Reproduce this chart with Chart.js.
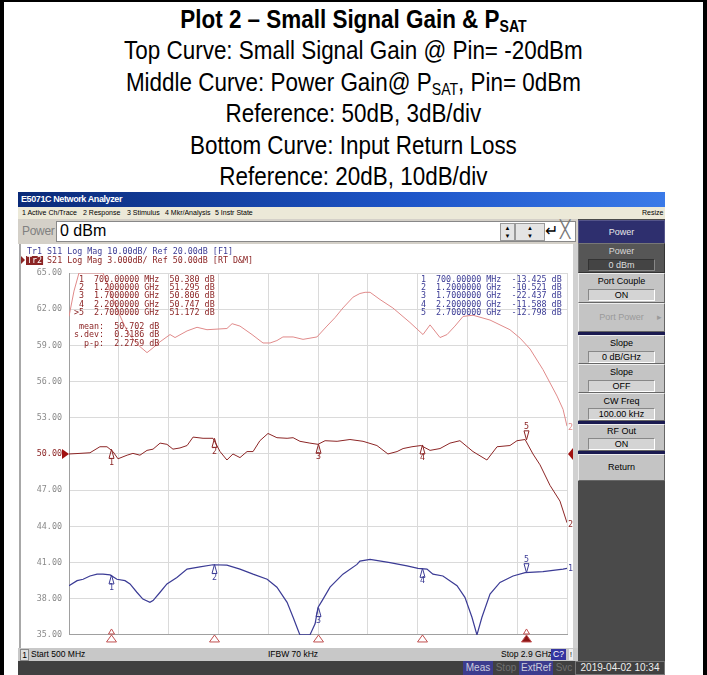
<!DOCTYPE html>
<html>
<head>
<meta charset="utf-8">
<script src="https://cdn.jsdelivr.net/npm/chart.js@4.4.1/dist/chart.umd.min.js"></script>
<style>
  body { margin: 0; width: 707px; height: 675px; position: relative; overflow: hidden; background: #fff; font-family: 'Liberation Sans', Arial, sans-serif; }
  .frame { position: absolute; left: 0; top: 0; width: 699px; height: 690px; border-left: 4px solid #000; border-right: 4px solid #000; border-top: 2px solid #000; }
  .title { position: absolute; left: 0; width: 707px; height: 30px; text-align: center; font-size: 25.5px; line-height: 30px; color: #000; transform: scaleX(0.88); transform-origin: 353px 0; }
  .title sub { font-size: 16px; vertical-align: -4px; line-height: 0; }
  .abs { position: absolute; }
  .titlebar { left: 18px; top: 192px; width: 647px; height: 15px; background: linear-gradient(to right, #0a2a78, #1d55c8 60%, #3a7ae8); color: #fff; font: bold 9px 'Liberation Sans'; letter-spacing: -0.4px; line-height: 15px; }
  .menubar { left: 18px; top: 207px; width: 647px; height: 12px; background: #ece9d8; font: 7px 'Liberation Sans'; line-height: 12px; color: #000; }
  .entry { left: 18px; top: 219px; width: 560px; height: 25px; background: #d4d0c8; }
  .sk { position: absolute; left: 578px; width: 85px; background: #c4c4c4; border: 1px solid; border-color: #eee #666 #666 #eee; text-align: center; font: 9px 'Liberation Sans'; color: #000; }
  .fld { position: absolute; left: 9px; width: 65px; height: 10px; background: #d4d4d4; border: 1px solid; border-color: #888 #fff #fff #888; line-height: 10px; }
  .sep { position: absolute; left: 578px; width: 87px; height: 3px; background: #1a1a50; }
  .status { left: 18px; top: 648px; width: 560px; height: 13px; background: #c8c8c8; font: 8.5px 'Liberation Sans'; line-height: 13px; color: #000; }
  .bottom { left: 18px; top: 661px; width: 647px; height: 14px; background: #404040; font: 10px 'Liberation Sans'; line-height: 14px; }
</style>
</head>
<body>
<div class="frame"></div>
<div class="title" style="top:4px;font-weight:bold">Plot 2 – Small Signal Gain &amp; P<sub>SAT</sub></div>
<div class="title" style="top:35px">Top Curve: Small Signal Gain @ Pin= -20dBm</div>
<div class="title" style="top:67px">Middle Curve: Power Gain@ P<sub>SAT</sub>, Pin= 0dBm</div>
<div class="title" style="top:98px">Reference: 50dB, 3dB/div</div>
<div class="title" style="top:130px">Bottom Curve: Input Return Loss</div>
<div class="title" style="top:161px">Reference: 20dB, 10dB/div</div>

<div class="abs titlebar"><span style="margin-left:3px">E5071C Network Analyzer</span></div>
<div class="abs menubar">
  <span class="abs" style="left:4px">1 Active Ch/Trace</span>
  <span class="abs" style="left:65px">2 Response</span>
  <span class="abs" style="left:109px">3 Stimulus</span>
  <span class="abs" style="left:147px">4 Mkr/Analysis</span>
  <span class="abs" style="left:197px">5 Instr State</span>
  <span class="abs" style="left:624px">Resize</span>
</div>
<div class="abs entry">
  <div class="abs" style="left:4px;top:5px;font-size:12px;letter-spacing:-0.3px;color:#808080">Power</div>
  <div class="abs" style="left:38px;top:2px;width:518px;height:19px;background:#fff;border:1px solid #888"></div>
  <div class="abs" style="left:42px;top:3px;font-size:16px;color:#000">0 dBm</div>
  <div class="abs" style="left:482px;top:4px;width:13px;height:16px;background:#e4e4e4;border:1px solid #999;font-size:6px;text-align:center;line-height:8px">▲<br>▼</div>
  <div class="abs" style="left:497px;top:4px;width:28px;height:16px;background:#e4e4e4;border:1px solid #999;font-size:6px;text-align:center;line-height:8px">▲<br>▼</div>
  <div class="abs" style="left:527px;top:2px;font-size:16px;color:#000">↵</div>
  <div class="abs" style="left:542px;top:3px;width:13px;height:16px;font-size:17px;line-height:16px;color:#777">╳</div>
</div>

<div class="abs" style="left:18px;top:244px;width:560px;height:404px;background:#fff"></div>
<div class="abs" style="left:19px;top:244px;width:2px;height:404px;background:#a8a8a8"></div>
<div class="abs" style="left:573px;top:244px;width:5px;height:404px;background:#d0d0d0"></div>
<canvas id="c" class="abs" style="left:18px;top:245px" width="555" height="402"></canvas>

<div class="abs" style="left:578px;top:219px;width:87px;height:442px;background:#4a4a4a"></div>
<div class="sk" style="top:220px;height:22px;line-height:22px;background:#2e2f6e;color:#e8e8e8;border-color:#55558a">Power</div>
<div class="sk" style="top:243px;height:28px;background:#565656;color:#d8d8d8;border-color:#777 #333 #333 #777"><div style="margin-top:2px">Power</div><div class="fld" style="top:15px;background:#444;color:#ddd;border-color:#333 #888 #888 #333">0 dBm</div></div>
<div class="sk" style="top:273px;height:28px"><div style="margin-top:2px">Port Couple</div><div class="fld" style="top:15px">ON</div></div>
<div class="sk" style="top:303px;height:27px;line-height:27px;color:#9a9a9a">Port Power<span class="abs" style="right:2px;top:0">▸</span></div>
<div class="sep" style="top:332px"></div>
<div class="sk" style="top:335px;height:27px"><div style="margin-top:2px">Slope</div><div class="fld" style="top:15px">0 dB/GHz</div></div>
<div class="sk" style="top:364px;height:27px"><div style="margin-top:2px">Slope</div><div class="fld" style="top:15px">OFF</div></div>
<div class="sk" style="top:393px;height:26px"><div style="margin-top:2px">CW Freq</div><div class="fld" style="top:14px">100.00 kHz</div></div>
<div class="sep" style="top:421px"></div>
<div class="sk" style="top:424px;height:25px"><div style="margin-top:1px">RF Out</div><div class="fld" style="top:13px">ON</div></div>
<div class="sep" style="top:451px"></div>
<div class="sk" style="top:454px;height:25px;line-height:25px">Return</div>

<div class="abs status">
  <span class="abs" style="left:2px;top:1px;width:7px;height:10px;line-height:10px;border:1px solid #888;background:#ddd;text-align:center">1</span>
  <span class="abs" style="left:13px">Start 500 MHz</span>
  <span class="abs" style="left:250px">IFBW 70 kHz</span>
  <span class="abs" style="left:483px">Stop 2.9 GHz</span>
  <span class="abs" style="left:533px;top:1px;width:15px;height:11px;line-height:11px;background:#3535a0;color:#fff;text-align:center">C?</span>
  <span class="abs" style="left:551px;top:1px;width:4px;height:11px;line-height:11px;background:#eee;text-align:center;font-size:7px">!</span>
</div>
<div class="abs bottom">
  <span class="abs" style="left:445px;width:30px;background:#3c3c8e;color:#ccd;text-align:center">Meas</span>
  <span class="abs" style="left:477px;width:22px;color:#707070;text-align:center">Stop</span>
  <span class="abs" style="left:501px;width:34px;background:#3c3c8e;color:#ccd;text-align:center">ExtRef</span>
  <span class="abs" style="left:537px;width:18px;color:#707070;text-align:center">Svc</span>
  <span class="abs" style="left:557px;width:88px;height:12px;border:1px solid #777;color:#eee;text-align:center;line-height:12px">2019-04-02 10:34</span>
</div>

<script>
// sweep 500 MHz .. 2.9 GHz, 240 MHz/div
const startMHz = 500;
const stopMHz = 2900;

// top curve: small signal gain @ Pin = -20 dBm (S21 memory, 3 dB/div)
const smallFreq = [500, 524, 548, 664, 698, 736, 780, 818, 842, 876, 905, 939, 987, 1011, 1069, 1117, 1165, 1261, 1286, 1324, 1382, 1435, 1469, 1502, 1531, 1580, 1628, 1695, 1743, 1782, 1820, 1869, 1902, 1927, 1951, 1999, 2061, 2143, 2206, 2240, 2288, 2322, 2360, 2399, 2447, 2529, 2625, 2674, 2722, 2784, 2852, 2881, 2900];
const smallGain = [61.4, 63.5, 65, 65, 63.5, 61.8, 60.2, 59.3, 58.9, 58.4, 58.8, 59.3, 59.9, 59.65, 60.2, 60.5, 60.3, 60.4, 60.8, 60.6, 59.9, 59.2, 59.2, 59.4, 59.7, 59.7, 59.5, 59.7, 60.6, 61.3, 62.1, 63.0, 63.3, 63.4, 63.4, 62.8, 62.1, 60.9, 59.9, 60.7, 59.65, 59.9, 60.6, 61.4, 61.5, 61.1, 60.3, 59.6, 58.7, 57.0, 54.8, 53.7, 52.3];

// middle curve: power gain @ PSAT, Pin = 0 dBm (S21, 3 dB/div)
const satFreq = [500, 553, 601, 649, 683, 712, 736, 780, 808, 842, 876, 905, 939, 972, 1001, 1035, 1069, 1098, 1146, 1194, 1228, 1261, 1290, 1324, 1358, 1387, 1420, 1459, 1502, 1551, 1580, 1613, 1661, 1700, 1734, 1792, 1854, 1917, 1984, 2037, 2081, 2110, 2153, 2196, 2240, 2288, 2336, 2384, 2447, 2514, 2563, 2625, 2659, 2698, 2736, 2770, 2818, 2866, 2900];
const satGain = [50.0, 50.05, 50.1, 50.6, 50.6, 50.2, 49.6, 49.9, 50.05, 49.9, 50.3, 50.4, 50.9, 50.8, 50.4, 50.5, 50.7, 51.4, 51.3, 51.3, 50.2, 49.5, 50.0, 49.7, 50.2, 50.2, 51.1, 51.7, 51.35, 51.3, 51.35, 51.05, 50.9, 50.8, 51.1, 51.05, 51.2, 51.05, 50.7, 50.0, 50.2, 50.45, 50.6, 50.7, 50.3, 50.45, 50.9, 51.1, 50.2, 49.5, 50.6, 50.7, 51.1, 51.2, 50.0, 49.1, 47.4, 46.1, 44.3];

// bottom curve: input return loss (S11, 10 dB/div, ref 20 dB)
const s11Freq = [500, 539, 568, 601, 635, 664, 698, 731, 770, 794, 827, 856, 890, 905, 939, 972, 1020, 1069, 1131, 1194, 1261, 1324, 1387, 1455, 1502, 1551, 1580, 1604, 1613, 1661, 1686, 1700, 1720, 1758, 1820, 1888, 1902, 1951, 2047, 2129, 2182, 2225, 2254, 2302, 2370, 2408, 2442, 2466, 2490, 2529, 2577, 2640, 2698, 2784, 2881, 2900];
const s11Db = [-16.4, -15.0, -14.6, -13.7, -13.2, -13.2, -13.4, -14.6, -15.0, -15.9, -18.2, -20.1, -21.0, -20.5, -18.2, -15.9, -14.1, -11.8, -11.2, -10.6, -10.7, -11.8, -13.2, -14.6, -16.8, -21.0, -25.1, -28.7, -30, -30, -26.9, -22.4, -20.5, -16.8, -13.2, -10.5, -9.6, -9.1, -10.0, -10.9, -11.6, -11.8, -13.2, -13.7, -16.4, -19.6, -25.1, -30, -25.1, -18.7, -15.5, -13.7, -12.8, -12.5, -11.8, -11.6];

// marker table
const markerFreq = [700, 1200, 1700, 2200, 2700];
const markerS21 = [50.380, 51.295, 50.806, 50.747, 51.172];
const markerS11 = [-13.425, -10.521, -22.437, -11.588, -12.798];
const statNames = ['mean:', 's.dev:', 'p-p:'];
const statValues = ['50.702', '0.3186', '2.2759'];

const RED = '#8c2525';
const PINK = '#e08a8a';
const BLUE = '#3b3b95';
const MONO = '8.35px "DejaVu Sans Mono"';

const pts = (xs, ys) => xs.map((x, i) => ({ x: x, y: ys[i] }));

function fmtFreq(f) {
  return f < 1000 ? f.toFixed(5) + ' MHz' : (f / 1000).toFixed(7) + ' GHz';
}

function tri(ctx, x, y, dir, w, h, fill) {
  ctx.beginPath();
  ctx.moveTo(x, y);
  ctx.lineTo(x - w, y + dir * h);
  ctx.lineTo(x + w, y + dir * h);
  ctx.closePath();
  if (fill) ctx.fill();
  ctx.stroke();
}

const overlay = {
  id: 'overlay',
  afterDatasetsDraw(chart) {
    const ctx = chart.ctx;
    const a = chart.chartArea;
    const xs = chart.scales.x, ys = chart.scales.y, y2 = chart.scales.y2;
    ctx.save();
    ctx.font = MONO;
    ctx.textBaseline = 'middle';
    ctx.lineWidth = 1;

    // trace header
    ctx.fillStyle = BLUE;
    ctx.textAlign = 'left';
    ctx.fillText('Tr1 S11 Log Mag 10.00dB/ Ref 20.00dB [F1]', 9, 7);
    const cw = ctx.measureText('0').width;
    ctx.fillStyle = RED;
    ctx.beginPath();
    ctx.moveTo(3, 11); ctx.lineTo(7, 15); ctx.lineTo(3, 19); ctx.closePath(); ctx.fill();
    ctx.fillRect(8, 11, cw * 3 + 2, 9);
    ctx.fillStyle = '#fff';
    ctx.fillText('Tr2', 9, 15.5);
    ctx.fillStyle = RED;
    ctx.fillText(' S21 Log Mag 3.000dB/ Ref 50.00dB [RT D&M]', 9 + cw * 3, 15.5);

    // marker readouts
    const x0 = a.left + 5, y0 = a.top + 6.5, dy = 8.4;
    markerFreq.forEach((f, i) => {
      ctx.fillStyle = RED;
      const lead = i === 4 ? '>' : ' ';
      ctx.fillText(lead + (i + 1) + '  ' + fmtFreq(f) + '  ' + markerS21[i].toFixed(3) + ' dB', x0, y0 + i * dy);
      ctx.fillStyle = BLUE;
      ctx.fillText((i + 1) + '  ' + fmtFreq(f) + '  ' + markerS11[i].toFixed(3) + ' dB', a.right - 146, y0 + i * dy);
    });
    ctx.fillStyle = RED;
    statNames.forEach((s, i) => {
      ctx.fillText(s.padStart(6) + '  ' + statValues[i] + ' dB', x0, y0 + (5.6 + i) * dy);
    });

    // trace markers
    const drawMarkers = (vals, scale, color) => {
      ctx.strokeStyle = color;
      ctx.fillStyle = color;
      ctx.textAlign = 'center';
      markerFreq.forEach((f, i) => {
        const px = Math.round(xs.getPixelForValue(f)) + 0.5;
        const py = scale.getPixelForValue(vals[i]);
        if (i === 4) {
          tri(ctx, px, py, -1, 2.5, 9, false);
          ctx.fillText(String(i + 1), px, py - 13);
        } else {
          tri(ctx, px, py, 1, 2.5, 9, false);
          ctx.fillText(String(i + 1), px, py + 13);
        }
      });
    };
    drawMarkers(markerS21, ys, RED);
    drawMarkers(markerS11, y2, BLUE);

    // trace end labels
    ctx.textAlign = 'left';
    ctx.fillStyle = PINK;
    ctx.fillText('2', a.right + 1, ys.getPixelForValue(smallGain[smallGain.length - 1]) + 2);
    ctx.fillStyle = RED;
    ctx.fillText('2', a.right + 1, ys.getPixelForValue(satGain[satGain.length - 1]) + 2);
    ctx.fillStyle = BLUE;
    ctx.fillText('1', a.right + 1, y2.getPixelForValue(s11Db[s11Db.length - 1]));

    // stimulus markers along the bottom
    ctx.strokeStyle = '#c05050';
    ctx.fillStyle = '#8c1515';
    markerFreq.forEach((f, i) => {
      const px = Math.round(xs.getPixelForValue(f)) + 0.5;
      tri(ctx, px, a.bottom, 1, 5, 7, i === 4);
      if (i === 0 || i === 4) tri(ctx, px, a.bottom - 6, 1, 3, 5, false);
    });

    // reference level arrows (50 dB)
    const ry = ys.getPixelForValue(50);
    ctx.fillStyle = '#a01010';
    ctx.beginPath();
    ctx.moveTo(a.left - 7, ry - 5); ctx.lineTo(a.left, ry); ctx.lineTo(a.left - 7, ry + 5); ctx.closePath(); ctx.fill();
    ctx.beginPath();
    ctx.moveTo(a.right + 6, ry - 6); ctx.lineTo(a.right + 1, ry); ctx.lineTo(a.right + 6, ry + 6); ctx.closePath(); ctx.fill();
    ctx.restore();
  }
};

new Chart(document.getElementById('c'), {
  type: 'line',
  data: {
    datasets: [
      { label: 'Small Signal Gain', data: pts(smallFreq, smallGain), borderColor: PINK, borderWidth: 1, pointRadius: 0, yAxisID: 'y' },
      { label: 'Power Gain @ PSAT', data: pts(satFreq, satGain), borderColor: RED, borderWidth: 1, pointRadius: 0, yAxisID: 'y' },
      { label: 'Input Return Loss', data: pts(s11Freq, s11Db), borderColor: BLUE, borderWidth: 1.2, pointRadius: 0, yAxisID: 'y2' }
    ]
  },
  options: {
    responsive: false,
    animation: false,
    layout: { padding: { top: 28, right: 6, bottom: 6, left: 0 } },
    plugins: { legend: { display: false }, tooltip: { enabled: false }, title: { display: false } },
    scales: {
      x: {
        type: 'linear',
        min: startMHz,
        max: stopMHz,
        ticks: { display: false, stepSize: 240 },
        grid: { color: '#dadada', drawTicks: false },
        border: { color: '#a0a0a0' },
        afterFit: s => { s.height = 0; }
      },
      y: {
        min: 35,
        max: 65,
        ticks: {
          stepSize: 3,
          padding: 7,
          callback: v => v.toFixed(2),
          color: c => (c.tick.value === 50 ? '#8c2525' : '#8a8a8a'),
          font: { family: 'DejaVu Sans Mono', size: 8.4 }
        },
        grid: { color: '#dadada', drawTicks: false },
        border: { color: '#a0a0a0' },
        afterFit: s => { s.width = 51; }
      },
      y2: { min: -30, max: 70, display: false }
    }
  },
  plugins: [overlay]
});
</script>
</body>
</html>
